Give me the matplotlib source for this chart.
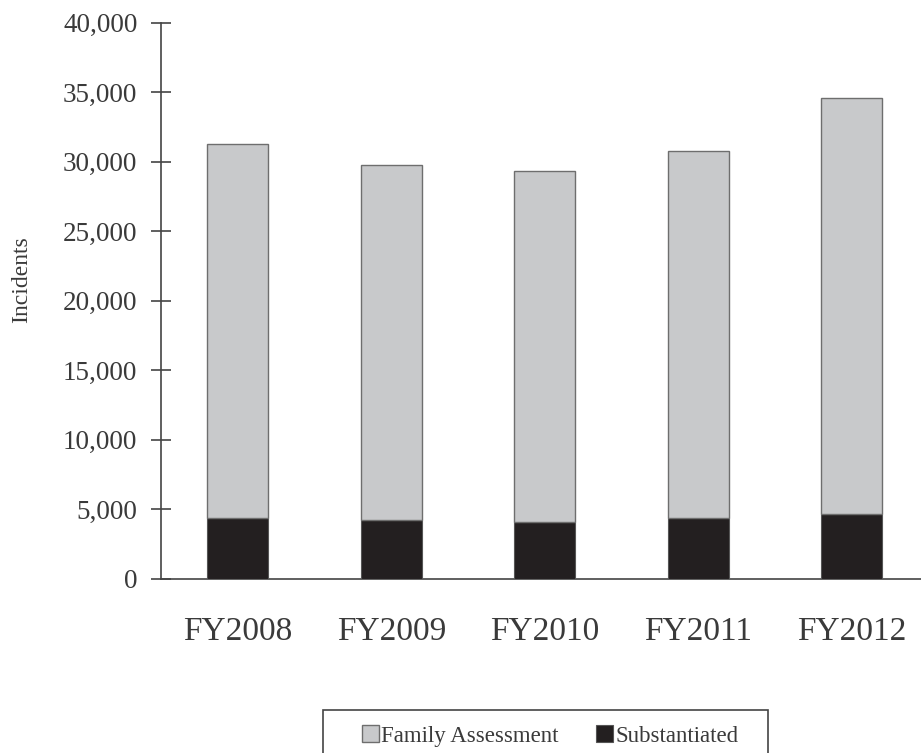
import matplotlib
matplotlib.use("Agg")
import matplotlib.pyplot as plt
from matplotlib.patches import Rectangle
from matplotlib.ticker import FuncFormatter

# --- data ---
years = ["FY2008", "FY2009", "FY2010", "FY2011", "FY2012"]
substantiated = [4420, 4275, 4130, 4400, 4660]
family_assessment = [26890, 25515, 25230, 26390, 29890]

GRAY = "#c8c9cb"
BLACK = "#231f20"
TEXT = "#3a3a3a"

plt.rcParams["font.family"] = ["Liberation Serif", "DejaVu Serif"]

fig = plt.figure(figsize=(9.21, 7.53), dpi=100)
ax = fig.add_axes([0.1748, 0.2311, 0.8333, 0.7388])

x = list(range(len(years)))
ax.bar(x, substantiated, width=0.4, color=BLACK, edgecolor="#555555", lw=0.8,
       label="Substantiated", zorder=3)
ax.bar(x, family_assessment, width=0.4, bottom=substantiated, color=GRAY,
       edgecolor="#6e6e6e", lw=1.0, label="Family Assessment", zorder=3)

ax.set_xlim(-0.5, 4.5)
ax.set_ylim(0, 40000)
ax.set_yticks(range(0, 40001, 5000))
ax.yaxis.set_major_formatter(FuncFormatter(lambda v, _: f"{int(v):,}"))
ax.tick_params(axis="y", direction="inout", length=14, width=1.2, color="#444444",
               labelsize=19.5, labelcolor=TEXT, pad=10)
ax.set_xticks(x)
ax.set_xticklabels(years)
ax.tick_params(axis="x", length=0, labelsize=24, labelcolor=TEXT, pad=27)

for side in ("top", "right"):
    ax.spines[side].set_visible(False)
for side in ("left", "bottom"):
    ax.spines[side].set_color("#444444")
    ax.spines[side].set_linewidth(1.2)

fig.text(22 / 921, 1 - 280 / 753, "Incidents", rotation=90, fontsize=17,
         color=TEXT, ha="center", va="center")

# legend order: Family Assessment first; box drawn separately (runs off the bottom edge)
handles, labels = ax.get_legend_handles_labels()
leg = fig.legend(handles[::-1], labels[::-1], loc="center",
                 bbox_to_anchor=(550 / 921, 1 - 736 / 753), ncol=2, fontsize=16.5,
                 frameon=False, handlelength=0.75, handleheight=0.7,
                 handletextpad=0.1, columnspacing=1.6, borderpad=0.0,
                 borderaxespad=0.0)
for t in leg.get_texts():
    t.set_color(TEXT)
fig.patches.append(Rectangle((323 / 921, -0.02), (768 - 323) / 921, 0.02 + 43 / 753,
                             transform=fig.transFigure, fill=False,
                             ec="#444444", lw=1.2))

fig.savefig("out.png", dpi=100)
